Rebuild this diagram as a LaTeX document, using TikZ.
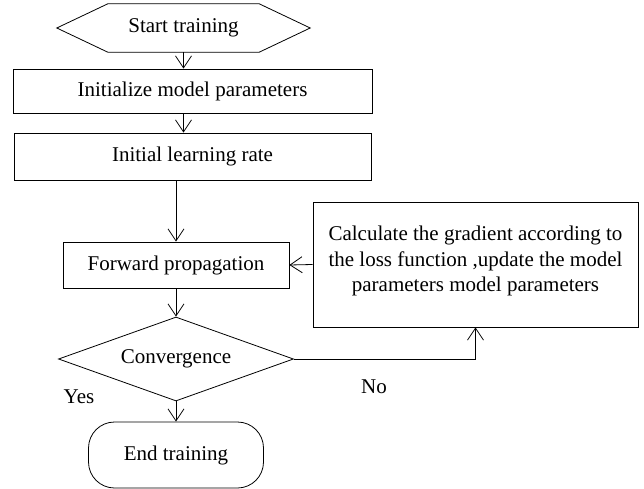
\documentclass[tikz,border=0pt]{standalone}
\usepackage{fontspec}
\setmainfont{Liberation Serif}
\usetikzlibrary{arrows.meta,shapes.geometric}

\begin{document}
\begin{tikzpicture}[x=1pt,y=-1pt,
  every node/.style={font=\fontsize{21}{25.5}\selectfont},
  box/.style={draw,line width=0.8pt,inner sep=0pt},
  flow/.style={line width=0.8pt,-{Straight Barb[length=12pt,width=16pt]}}]
  \useasboundingbox (0,0) rectangle (644,489);

  % main column
  \node[minimum width=253pt,minimum height=48pt,inner sep=0pt]
    (start) at (183.5,28) {Start training};
  \draw[box] (start.west) -- ([xshift=51pt]start.north west)
    -- ([xshift=-51pt]start.north east) -- (start.east)
    -- ([xshift=-51pt]start.south east) -- ([xshift=51pt]start.south west)
    -- cycle;
  \node[box,minimum width=359pt,minimum height=44pt]
    (init) at (192.5,91) {Initialize model parameters};
  \node[box,minimum width=357pt,minimum height=47pt]
    (rate) at (192.5,156.5) {Initial learning rate};
  \node[box,minimum width=226pt,minimum height=46pt]
    (fwd) at (176,265) {Forward propagation};
  \node[box,diamond,aspect=2.8,minimum width=235pt,minimum height=84pt]
    (conv) at (176,359) {Convergence};
  \node[box,rounded corners=26pt,minimum width=175pt,minimum height=66pt]
    (stop) at (176,455) {End training};

  % side box
  \node[box,minimum width=325pt,minimum height=125pt]
    (calc) at (475.5,264.5) {};
  \node[align=center] (calctext) at (475.5,261)
    {Calculate the gradient according to\\
     the loss function ,update the model\\
     parameters model parameters};

  \node (yes) at (79,397) {Yes};
  \node (no) at (374,387) {No};

  \draw[flow] (start.south) -- (start.south |- init.north);
  \draw[flow] (start.south |- init.south) -- (start.south |- rate.north);
  \draw[flow] (fwd.north |- rate.south) -- (fwd.north);
  \draw[flow] (fwd.south) -- (conv.north);
  \draw[flow] (conv.south) -- (stop.north);
  \draw[flow] (calc.west) -- (fwd.east);
  \draw[flow] (conv.east) -| (calc.south);
\end{tikzpicture}
\end{document}
